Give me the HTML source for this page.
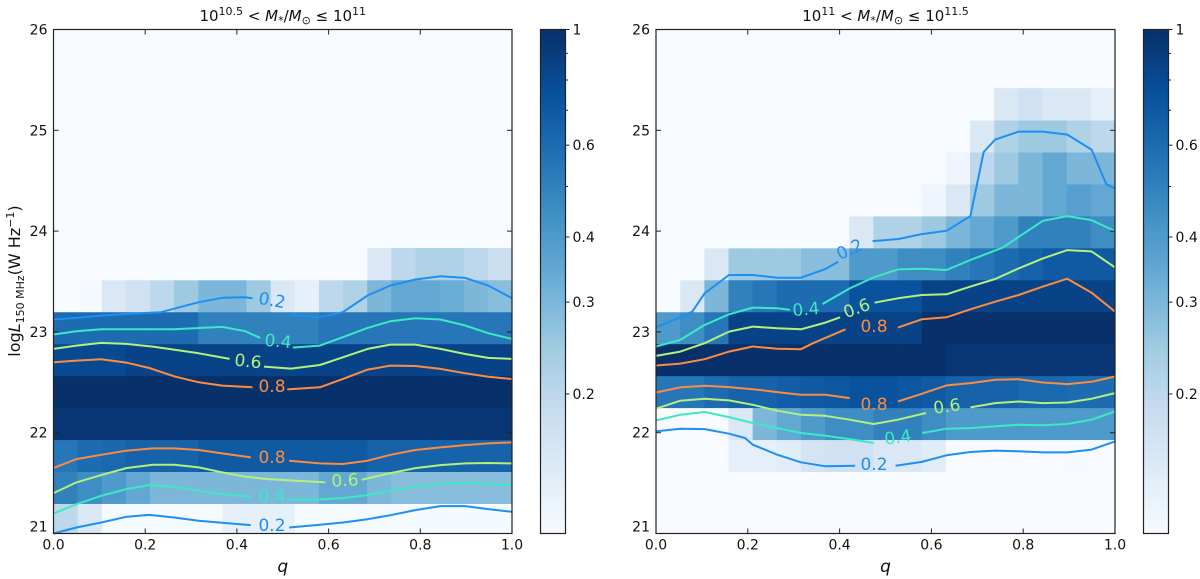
<!DOCTYPE html>
<html><head><meta charset="utf-8">
<style>
html,body{margin:0;padding:0;background:#fff;}
svg{display:block;font-family:"DejaVu Sans","Liberation Sans",sans-serif;}
</style></head>
<body>
<svg id="fig" width="1200" height="579" viewBox="0 0 1200 579" xmlns="http://www.w3.org/2000/svg"></svg>
<script>
// ---------- data ----------
const nCols = 19;
const rowStart = 20.98;
const rowH = 0.317;
const colorTicks = [1, 0.6, 0.4, 0.3, 0.2];
const colorTickLabels = ["1", "0.6", "0.4", "0.3", "0.2"];
const colorMinorTicks = [0.9, 0.8, 0.7, 0.5];
const xTicks = [0, 0.2, 0.4, 0.6, 0.8, 1.0];
const xTickLabels = ["0.0", "0.2", "0.4", "0.6", "0.8", "1.0"];
const yTicks = [21, 22, 23, 24, 25, 26];
const yTickLabels = ["21", "22", "23", "24", "25", "26"];

// left panel cells (rows bottom-up)
const leftCells = [
 [0.2,0.15,0.11,0.11,0.11,0.11,0.11,0.13,0.13,0.13,0.11,0.11,0.11,0.11,0.11,0.11,0.11,0.11,0.11],
 [0.5,0.45,0.4,0.35,0.3,0.3,0.3,0.3,0.3,0.3,0.3,0.35,0.35,0.3,0.28,0.28,0.28,0.28,0.28],
 [0.55,0.6,0.62,0.65,0.65,0.65,0.7,0.7,0.7,0.7,0.7,0.7,0.7,0.65,0.65,0.65,0.65,0.65,0.65],
 [0.95,0.95,0.95,0.95,0.95,0.95,0.95,0.95,0.95,0.95,0.95,0.95,0.95,0.95,0.95,0.95,0.95,0.95,0.95],
 [1,1,1,1,1,1,1,1,1,1,1,1,1,1,1,1,1,1,1],
 [0.8,0.8,0.8,0.85,0.85,0.85,0.85,0.85,0.85,0.85,0.85,0.85,0.85,0.85,0.85,0.85,0.85,0.85,0.85],
 [0.6,0.6,0.6,0.6,0.6,0.6,0.5,0.5,0.5,0.5,0.5,0.55,0.55,0.55,0.55,0.55,0.55,0.55,0.55],
 [0.1,0.11,0.15,0.17,0.2,0.25,0.3,0.3,0.25,0.15,0.13,0.2,0.22,0.3,0.35,0.35,0.33,0.3,0.28],
 [0.1,0.1,0.1,0.1,0.1,0.1,0.1,0.1,0.1,0.1,0.1,0.1,0.1,0.15,0.2,0.22,0.22,0.2,0.18]
];
const rightCells = [
 [0.1,0.1,0.1,0.1,0.1,0.1,0.1,0.1,0.1,0.1,0.1,0.1,0.1,0.1,0.1,0.1,0.1,0.1,0.1],
 [0.1,0.1,0.1,0.1,0.1,0.1,0.1,0.1,0.1,0.1,0.1,0.1,0.1,0.1,0.1,0.1,0.1,0.1,0.1],
 [0.1,0.1,0.1,0.13,0.13,0.14,0.16,0.17,0.17,0.15,0.15,0.14,0.1,0.1,0.1,0.1,0.1,0.11,0.1],
 [0.1,0.1,0.1,0.15,0.3,0.35,0.4,0.45,0.45,0.5,0.5,0.45,0.4,0.4,0.4,0.4,0.4,0.4,0.4],
 [0.55,0.55,0.6,0.65,0.65,0.68,0.7,0.72,0.75,0.75,0.72,0.7,0.65,0.65,0.65,0.62,0.62,0.6,0.6],
 [1,1,1,1,1,1,1,1,1,1,1,1,0.95,0.95,0.95,0.95,0.95,0.95,0.95],
 [0.4,0.45,0.55,0.85,0.85,0.85,0.85,0.85,0.85,0.85,0.85,1,1,1,1,1,1,1,1],
 [0.1,0.15,0.3,0.5,0.55,0.6,0.6,0.6,0.75,0.75,0.75,0.85,0.85,0.85,0.85,0.85,0.85,0.85,0.85],
 [0.1,0.1,0.15,0.25,0.25,0.25,0.28,0.28,0.4,0.4,0.45,0.45,0.5,0.55,0.6,0.65,0.7,0.7,0.7],
 [0.1,0.1,0.1,0.1,0.1,0.1,0.1,0.1,0.15,0.22,0.22,0.25,0.3,0.35,0.4,0.5,0.5,0.5,0.45],
 [0.1,0.1,0.1,0.1,0.1,0.1,0.1,0.1,0.1,0.1,0.1,0.12,0.15,0.25,0.3,0.3,0.35,0.38,0.35],
 [0.1,0.1,0.1,0.1,0.1,0.1,0.1,0.1,0.1,0.1,0.1,0.1,0.12,0.2,0.25,0.3,0.35,0.3,0.3],
 [0.1,0.1,0.1,0.1,0.1,0.1,0.1,0.1,0.1,0.1,0.1,0.1,0.1,0.15,0.22,0.25,0.25,0.22,0.2],
 [0.1,0.1,0.1,0.1,0.1,0.1,0.1,0.1,0.1,0.1,0.1,0.1,0.1,0.1,0.15,0.17,0.15,0.15,0.13]
];

// contour lines: q, L, gap index (segment gap->gap+1 hidden), level
const L_up02_q = [0,0.05,0.104,0.159,0.234,0.317,0.368,0.418,0.434,0.518,0.581,0.631,0.685,0.735,0.789,0.844,0.898,0.948,1];
const L_up02_L = [23.123,23.139,23.162,23.179,23.195,23.295,23.338,23.344,23.334,23.169,23.146,23.195,23.361,23.460,23.520,23.553,23.536,23.460,23.334];
const L_up04_q = [0,0.05,0.104,0.159,0.263,0.368,0.418,0.451,0.522,0.581,0.631,0.685,0.735,0.789,0.844,0.898,0.948,1];
const L_up04_L = [22.974,23.007,23.026,23.026,23.026,23.050,23.007,22.940,22.844,22.864,22.947,23.040,23.106,23.136,23.123,23.063,22.987,22.930];
const L_up06_q = [0,0.05,0.104,0.159,0.217,0.317,0.384,0.459,0.518,0.581,0.631,0.685,0.735,0.789,0.844,0.898,0.948,1];
const L_up06_L = [22.831,22.864,22.891,22.881,22.854,22.788,22.732,22.656,22.636,22.672,22.748,22.831,22.874,22.874,22.831,22.781,22.742,22.732];
const L_up08_q = [0,0.05,0.104,0.159,0.209,0.263,0.317,0.368,0.434,0.51,0.581,0.631,0.685,0.735,0.789,0.844,0.898,0.948,1];
const L_up08_L = [22.699,22.715,22.728,22.695,22.642,22.560,22.500,22.467,22.450,22.430,22.450,22.533,22.626,22.666,22.662,22.633,22.589,22.556,22.533];
const L_lo08_q = [0,0.05,0.104,0.159,0.217,0.263,0.317,0.368,0.43,0.514,0.581,0.631,0.685,0.735,0.789,0.844,0.898,0.948,1];
const L_lo08_L = [21.649,21.738,21.781,21.821,21.844,21.844,21.828,21.795,21.755,21.722,21.695,21.689,21.722,21.781,21.828,21.854,21.877,21.894,21.904];
const L_lo06_q = [0,0.05,0.104,0.159,0.217,0.263,0.317,0.368,0.418,0.468,0.593,0.672,0.735,0.789,0.844,0.898,0.948,1];
const L_lo06_L = [21.401,21.507,21.579,21.649,21.682,21.682,21.656,21.606,21.563,21.540,21.507,21.533,21.599,21.649,21.679,21.695,21.699,21.695];
const L_lo04_q = [0,0.05,0.104,0.159,0.209,0.263,0.317,0.368,0.43,0.514,0.581,0.631,0.685,0.735,0.789,0.844,0.898,0.948,1];
const L_lo04_L = [21.199,21.291,21.374,21.440,21.480,21.464,21.424,21.391,21.364,21.338,21.338,21.351,21.381,21.424,21.464,21.490,21.503,21.493,21.477];
const L_lo02_q = [0,0.05,0.104,0.159,0.209,0.263,0.317,0.368,0.43,0.514,0.581,0.631,0.685,0.735,0.789,0.844,0.898,0.948,1];
const L_lo02_L = [21.0,21.060,21.109,21.166,21.185,21.159,21.126,21.106,21.083,21.060,21.086,21.109,21.142,21.182,21.232,21.272,21.272,21.242,21.215];

const R_up02_q = [0,0.053,0.079,0.106,0.159,0.211,0.264,0.316,0.369,0.397,0.472,0.527,0.579,0.633,0.685,0.714,0.739,0.790,0.843,0.896,0.949,0.981,1];
const R_up02_L = [23.046,23.145,23.201,23.383,23.564,23.564,23.538,23.538,23.624,23.696,23.901,23.921,23.970,24.003,24.149,24.785,24.908,24.987,24.987,24.957,24.809,24.465,24.422];
const R_up04_q = [0,0.053,0.106,0.159,0.211,0.264,0.292,0.363,0.422,0.474,0.527,0.579,0.633,0.685,0.755,0.843,0.896,0.949,1];
const R_up04_L = [22.855,22.921,23.069,23.175,23.241,23.234,23.218,23.277,23.432,23.541,23.620,23.627,23.614,23.713,23.835,24.102,24.149,24.109,24.0];
const R_up06_q = [0,0.053,0.106,0.159,0.211,0.264,0.316,0.369,0.401,0.476,0.527,0.579,0.633,0.685,0.739,0.790,0.843,0.896,0.949,1];
const R_up06_L = [22.762,22.805,22.888,23.003,23.053,23.036,23.026,23.092,23.145,23.290,23.333,23.366,23.373,23.449,23.525,23.630,23.729,23.812,23.799,23.640];
const R_up08_q = [0,0.053,0.106,0.159,0.211,0.264,0.316,0.342,0.413,0.527,0.579,0.633,0.685,0.739,0.790,0.843,0.896,0.949,1];
const R_up08_L = [22.667,22.686,22.729,22.805,22.855,22.832,22.828,22.888,23.026,23.043,23.125,23.145,23.224,23.300,23.366,23.449,23.528,23.389,23.201];
const R_lo08_q = [0,0.053,0.106,0.159,0.211,0.264,0.316,0.369,0.422,0.527,0.579,0.633,0.685,0.739,0.790,0.843,0.896,0.949,1];
const R_lo08_L = [22.399,22.449,22.465,22.452,22.432,22.403,22.376,22.376,22.343,22.310,22.386,22.469,22.492,22.525,22.531,22.498,22.482,22.505,22.558];
const R_lo06_q = [0,0.053,0.106,0.159,0.211,0.264,0.316,0.369,0.422,0.474,0.527,0.588,0.685,0.739,0.790,0.843,0.896,0.949,1];
const R_lo06_L = [22.238,22.317,22.337,22.320,22.277,22.218,22.178,22.168,22.129,22.086,22.129,22.195,22.251,22.294,22.310,22.294,22.300,22.337,22.393];
const R_lo04_q = [0,0.053,0.106,0.159,0.211,0.264,0.316,0.369,0.422,0.474,0.580,0.633,0.685,0.790,0.843,0.896,0.949,1];
const R_lo04_L = [22.122,22.178,22.205,22.155,22.096,22.046,21.997,21.970,21.937,21.898,21.997,22.040,22.046,22.079,22.073,22.086,22.129,22.211];
const R_lo02_q = [0,0.053,0.106,0.159,0.194,0.211,0.264,0.316,0.369,0.434,0.522,0.579,0.633,0.685,0.739,0.790,0.843,0.896,0.949,1];
const R_lo02_L = [22.013,22.040,22.036,21.990,21.947,21.881,21.782,21.706,21.667,21.673,21.673,21.710,21.776,21.809,21.822,21.815,21.805,21.805,21.832,21.914];

// ---------- rendering ----------
const NS = "http://www.w3.org/2000/svg";
const svg = document.getElementById("fig");
const vmin = 0.108;
const levelColors = {"0.2":"#1e8ff2","0.4":"#3de8c4","0.6":"#b4f07c","0.8":"#fb8c42"};
const blues = ["#f7fbff","#deebf7","#c6dbef","#9ecae1","#6baed6","#4292c6","#2171b5","#08519c","#08306b"];
function hex(h){return [1,3,5].map(i=>parseInt(h.substr(i,2),16));}
function cmap(v){
  let t = Math.log(Math.max(v,vmin)/vmin)/Math.log(1/vmin);
  t = Math.max(0,Math.min(1,t));
  const p = t*(blues.length-1), i = Math.min(blues.length-2, Math.floor(p)), f = p-i;
  const a = hex(blues[i]), b = hex(blues[i+1]);
  return "rgb("+a.map((c,k)=>Math.round(c+(b[k]-c)*f)).join(",")+")";
}
function mk(tag, attrs, parent){
  const e = document.createElementNS(NS, tag);
  for (const k in attrs) e.setAttribute(k, attrs[k]);
  (parent||svg).appendChild(e);
  return e;
}
const top0 = 29.5, bot0 = 533.5;
function yScale(L){ return bot0 - (L-21)/5*(bot0-top0); }

function panel(px0, px1, cells, lines, labels, cbx, title, pname){
  const g = mk("g", {});
  
  
  const xS = q => px0 + q*(px1-px0);
  const bg = mk("rect",{x:px0,y:top0,width:px1-px0,height:bot0-top0,fill:cmap(0.1)},g);
  
  
  const cw = 1/nCols;
  for (let r=0;r<cells.length;r++){
    for (let c=0;c<nCols;c++){
      const yb = Math.max(21, rowStart + r*rowH), yt = rowStart + (r+1)*rowH;
      const x0 = xS(c*cw), x1 = xS((c+1)*cw);
      const rc = mk("rect",{x:x0.toFixed(2),y:yScale(yt).toFixed(2),width:(x1-x0+0.4).toFixed(2),height:(yScale(yb)-yScale(yt)+0.4).toFixed(2),fill:cmap(cells[r][c])},g);
      
      
    }
  }
  lines.forEach(ln=>{
    const [qs, Ls, gap, lev] = ln;
    const segs = [[0,gap],[gap+1,qs.length-1]];
    segs.forEach(([a,b])=>{
      let d = "";
      for (let i=a;i<=b;i++) d += (i===a?"M":"L")+xS(qs[i]).toFixed(1)+","+yScale(Ls[i]).toFixed(1);
      const p = mk("path",{d:d,fill:"none",stroke:levelColors[lev],"stroke-width":2,"stroke-linejoin":"round"},g);
      
      
    });
  });
  labels.forEach(lb=>{
    const [x,y,txt,rot] = lb;
    const t = mk("text",{x:x,y:y,"font-size":17,fill:levelColors[txt],"text-anchor":"middle","dominant-baseline":"central",transform:"rotate("+rot+" "+x+" "+y+")"},g);
    t.textContent = txt;
    
    
  });
  const fr = mk("rect",{x:px0,y:top0,width:px1-px0,height:bot0-top0,fill:"none",stroke:"#222","stroke-width":1.2},g);
  
  
  xTicks.forEach((q,i)=>{
    const x = xS(q);
    mk("line",{x1:x,x2:x,y1:bot0,y2:bot0-5,stroke:"#222","stroke-width":1},g);
    mk("line",{x1:x,x2:x,y1:top0,y2:top0+5,stroke:"#222","stroke-width":1},g);
    const t = mk("text",{x:x,y:bot0+16,"font-size":14,"text-anchor":"middle",fill:"#111"},g);
    t.textContent = xTickLabels[i];
    
    
  });
  yTicks.forEach((v,i)=>{
    const y = yScale(v);
    mk("line",{x1:px0,x2:px0+5,y1:y,y2:y,stroke:"#222","stroke-width":1},g);
    mk("line",{x1:px1,x2:px1-5,y1:y,y2:y,stroke:"#222","stroke-width":1},g);
    const t = mk("text",{x:px0-6,y:y+(i===0?-2:5),"font-size":14,"text-anchor":"end",fill:"#111"},g);
    t.textContent = yTickLabels[i];
    
    
  });
  const xl = mk("text",{x:(px0+px1)/2,y:572,"font-size":17,"font-style":"italic","text-anchor":"middle",fill:"#111"},g);
  xl.textContent = "q";
  
  
  const tt = mk("text",{x:(px0+px1)/2,y:21,"font-size":15,"text-anchor":"middle",fill:"#111"},g);
  tt.innerHTML = title;
  
  
  const cbw = 25;
  const cg = mk("g",{},g);
  
  
  const N = 120;
  for (let i=0;i<N;i++){
    const y0 = bot0 - (i+1)*(bot0-top0)/N, v = Math.exp(Math.log(vmin)+(i+0.5)/N*(-Math.log(vmin)));
    mk("rect",{x:cbx,y:y0.toFixed(2),width:cbw,height:((bot0-top0)/N+0.5).toFixed(2),fill:cmap(v)},cg);
  }
  mk("rect",{x:cbx,y:top0,width:cbw,height:bot0-top0,fill:"none",stroke:"#222","stroke-width":1.2},cg);
  const cy = v => bot0 - Math.log(v/vmin)/Math.log(1/vmin)*(bot0-top0);
  colorTicks.forEach((v,i)=>{
    const y = cy(v);
    mk("line",{x1:cbx+cbw,x2:cbx+cbw+4,y1:y,y2:y,stroke:"#222"},cg);
    const t = mk("text",{x:cbx+cbw+7,y:y+5,"font-size":14,fill:"#111"},cg);
    t.textContent = colorTickLabels[i];
    
    
  });
  colorMinorTicks.forEach(v=>{
    const y = cy(v);
    mk("line",{x1:cbx+cbw,x2:cbx+cbw+2.5,y1:y,y2:y,stroke:"#222"},cg);
  });
}

panel(53.5, 512, leftCells, [
  [L_up02_q,L_up02_L,8,"0.2"],[L_up04_q,L_up04_L,7,"0.4"],[L_up06_q,L_up06_L,6,"0.6"],[L_up08_q,L_up08_L,8,"0.8"],
  [L_lo08_q,L_lo08_L,8,"0.8"],[L_lo06_q,L_lo06_L,10,"0.6"],[L_lo04_q,L_lo04_L,8,"0.4"],[L_lo02_q,L_lo02_L,8,"0.2"]
],[[272,301,"0.2",10],[278,342,"0.4",5],[248,362,"0.6",6],[272,387,"0.8",0],[272,458,"0.8",0],[345,481,"0.6",-3],[272,497,"0.4",0],[272,526,"0.2",0]],
 540.5, '10<tspan dy="-6" font-size="11">10.5</tspan><tspan dy="6"> &lt; </tspan><tspan font-style="italic">M</tspan><tspan font-size="11" dy="3">*</tspan><tspan dy="-3">/</tspan><tspan font-style="italic">M</tspan><tspan font-size="11" dy="3">⊙</tspan><tspan dy="-3"> ≤ 10</tspan><tspan dy="-6" font-size="11">11</tspan>', "left-panel");

panel(656, 1115, rightCells, [
  [R_up02_q,R_up02_L,9,"0.2"],[R_up04_q,R_up04_L,6,"0.4"],[R_up06_q,R_up06_L,8,"0.6"],[R_up08_q,R_up08_L,8,"0.8"],
  [R_lo08_q,R_lo08_L,8,"0.8"],[R_lo06_q,R_lo06_L,11,"0.6"],[R_lo04_q,R_lo04_L,9,"0.4"],[R_lo02_q,R_lo02_L,9,"0.2"]
],[[850,250,"0.2",-25],[806,310,"0.4",-5],[857,309,"0.6",-20],[874,327,"0.8",0],[874,405,"0.8",0],[947,407,"0.6",-8],[898,438,"0.4",-8],[874,465,"0.2",0]],
 1143.5, '10<tspan dy="-6" font-size="11">11</tspan><tspan dy="6"> &lt; </tspan><tspan font-style="italic">M</tspan><tspan font-size="11" dy="3">*</tspan><tspan dy="-3">/</tspan><tspan font-style="italic">M</tspan><tspan font-size="11" dy="3">⊙</tspan><tspan dy="-3"> ≤ 10</tspan><tspan dy="-6" font-size="11">11.5</tspan>', "right-panel");

const yl = mk("text",{x:0,y:0,"font-size":16,"text-anchor":"middle",fill:"#111",transform:"translate(20,281) rotate(-90)"});
yl.innerHTML = 'log<tspan font-style="italic">L</tspan><tspan font-size="11" dy="4">150 MHz</tspan><tspan dy="-4">(W Hz</tspan><tspan font-size="11" dy="-6">−1</tspan><tspan dy="6">)</tspan>';


</script>
</body></html>
